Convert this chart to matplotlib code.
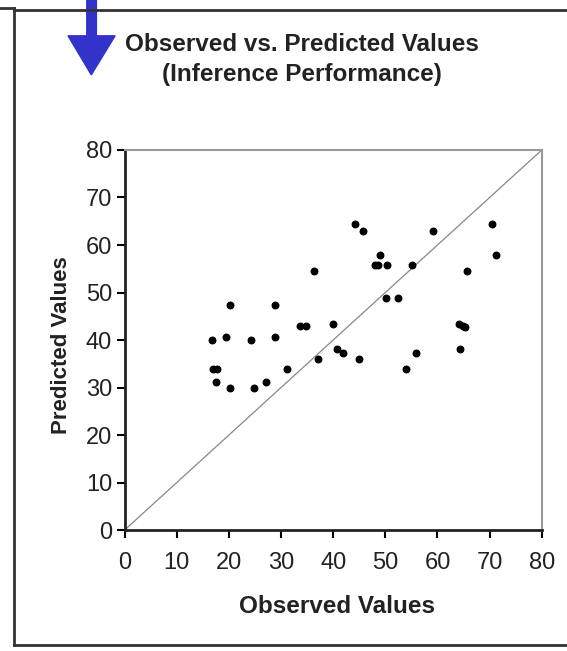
import matplotlib
matplotlib.use("Agg")
import matplotlib.pyplot as plt
from matplotlib.patches import Polygon
from matplotlib.lines import Line2D

plt.rcParams['font.family'] = ['Liberation Sans', 'DejaVu Sans']

# observed / predicted values
observed = [16.8, 16.9, 17.7, 17.5, 19.4, 20.3, 20.2, 24.2, 24.9, 27.2,
            28.9, 28.9, 31.2, 33.6, 34.7, 36.3, 37.1, 39.9, 40.7, 41.8,
            44.1, 44.9, 45.8, 48.0, 48.5, 49.0, 50.1, 50.4, 52.4, 53.9,
            55.2, 55.8, 59.1, 64.2, 64.8, 65.3, 64.4, 65.6, 70.4, 71.2]
predicted = [39.9, 33.8, 33.8, 31.2, 40.7, 47.3, 30.0, 39.9, 30.0, 31.2,
             47.3, 40.7, 33.8, 42.9, 42.9, 54.5, 35.9, 43.3, 38.1, 37.2,
             64.5, 35.9, 63.0, 55.8, 55.8, 58.0, 48.9, 55.8, 48.9, 33.8,
             55.8, 37.3, 63.0, 43.3, 43.0, 42.8, 38.1, 54.5, 64.5, 58.0]
ticks = [0, 10, 20, 30, 40, 50, 60, 70, 80]

fig = plt.figure(figsize=(5.67, 6.51), dpi=100)
ax = fig.add_axes([0.2198, 0.1858, 0.7357, 0.5838])

ax.plot([0, 80], [0, 80], color='#888888', lw=0.9, zorder=1)
ax.scatter(observed, predicted, s=22, color='black', zorder=2)

ax.set_xlim(0, 80)
ax.set_ylim(0, 80)
ax.set_xticks(ticks)
ax.set_yticks(ticks)
ax.tick_params(labelsize=17, length=6, width=1.5, direction='out',
               labelcolor='#222222')
ax.tick_params(axis='x', pad=10)
ax.tick_params(axis='y', pad=3)
for s in ['left', 'bottom']:
    ax.spines[s].set_linewidth(2)
    ax.spines[s].set_color('#222222')
for s in ['top', 'right']:
    ax.spines[s].set_linewidth(1.5)
    ax.spines[s].set_color('#999999')

ax.set_xlabel('Observed Values', fontsize=17.5, fontweight='bold', color='#222222')
ax.set_ylabel('Predicted Values', fontsize=16, fontweight='bold', color='#222222')
ax.xaxis.set_label_coords(0.509, -0.172)
ax.yaxis.set_label_coords(-0.127, 0.487)

fig.text(0.533, 0.9086, 'Observed vs. Predicted Values\n(Inference Performance)',
         ha='center', va='center', fontsize=17.5, fontweight='bold',
         linespacing=1.35, color='#222222')

# outer frame
frame = dict(color='#333333', lw=2, transform=fig.transFigure)
fig.add_artist(Line2D([0.025, 0.025], [0.009, 0.987], **frame))
fig.add_artist(Line2D([0.025, 1.0], [0.985, 0.985], **frame))
fig.add_artist(Line2D([0.025, 1.0], [0.009, 0.009], **frame))
fig.add_artist(Line2D([0.0, 0.025], [0.988, 0.988], **frame))

# blue arrow
blue = '#3333cc'
fig.add_artist(Polygon([[0.153, 1.0], [0.170, 1.0], [0.170, 0.945], [0.203, 0.945],
                        [0.161, 0.885], [0.120, 0.945], [0.153, 0.945]],
                       closed=True, color=blue, transform=fig.transFigure))

fig.savefig('out.png', dpi=100)
